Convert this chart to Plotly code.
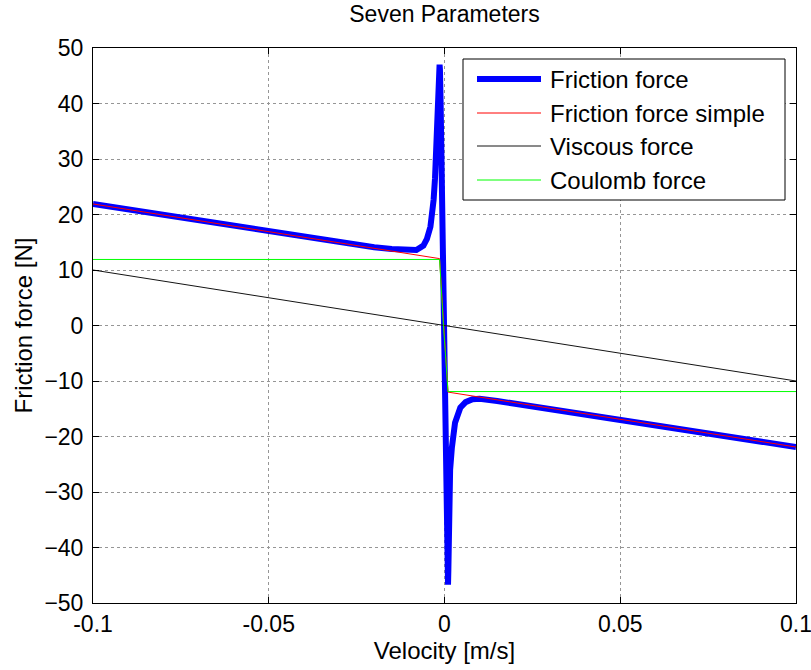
import plotly.graph_objects as go

# ---- data: velocity [m/s] and force [N] ----
v_friction = [-0.100, -0.090, -0.080, -0.070, -0.060, -0.050, -0.040, -0.030,
              -0.025, -0.020, -0.015, -0.010, -0.008, -0.006, -0.005, -0.004,
              -0.0035, -0.0031, -0.0027, -0.0024, -0.0021, -0.0019, -0.0017,
              -0.0015, -0.0014, -0.0013, -0.0011, -0.0009, -0.0005, 0.0, 0.0005,
              0.0008, 0.0009, 0.0010, 0.0011, 0.0013, 0.0016, 0.0021, 0.0030,
              0.0045, 0.0060, 0.0080, 0.010, 0.015, 0.020, 0.025, 0.030, 0.040,
              0.050, 0.060, 0.070, 0.080, 0.090, 0.100]
f_friction = [21.9, 20.9, 19.9, 18.9, 17.9, 17.0, 16.0, 15.0,
              14.6, 14.1, 13.8, 13.6, 13.6, 14.4, 15.6, 17.8,
              19.8, 22.6, 26.5, 30.4, 35.5, 39.4, 43.2,
              46.2, 47.0, 46.2, 40.0, 30.0, 10.0, -7.0, -24.0,
              -37.0, -43.5, -46.7, -44.0, -33.0, -26.0, -22.0, -17.5,
              -14.8, -13.8, -13.3, -13.2, -13.6, -14.1, -14.6, -15.1, -16.0,
              -17.0, -18.0, -19.0, -19.9, -20.9, -21.9]

v_simple = [-0.100, -0.050, -0.010, -0.0014, 0.0010, 0.010, 0.050, 0.100]
f_simple = [21.9, 16.9, 12.9, 12.05, -12.0, -12.9, -16.9, -21.9]

v_viscous = [-0.100, 0.0, 0.100]
f_viscous = [10.0, 0.0, -10.0]

v_coulomb = [-0.100, -0.0014, -0.0003, 0.0010, 0.100]
f_coulomb = [11.9, 11.9, 0.0, -11.9, -11.9]

x_ticks = [-0.1, -0.05, 0, 0.05, 0.1]
x_tick_text = ["-0.1", "-0.05", "0", "0.05", "0.1"]
y_ticks = [-50, -40, -30, -20, -10, 0, 10, 20, 30, 40, 50]

series = [
    ("Friction force", v_friction, f_friction, "rgb(0,0,255)", 6),
    ("Friction force simple", v_simple, f_simple, "rgb(255,0,0)", 1),
    ("Viscous force", v_viscous, f_viscous, "rgb(20,20,20)", 1),
    ("Coulomb force", v_coulomb, f_coulomb, "rgb(0,255,0)", 1),
]

FONT = "Liberation Sans, Arial, sans-serif"
W, H = 811, 670
L, R, T, B = 93, 15, 48, 67

fig = go.Figure()
for name, xs, ys, color, width in series:
    fig.add_trace(go.Scatter(x=xs, y=ys, mode="lines", name=name,
                             line=dict(color=color, width=width),
                             showlegend=False))

# legend box drawn in the upper right corner of the axes
def px_x(px):
    return (px - L) / (W - L - R)

def px_y(py):
    return (H - B - py) / (H - T - B)

shapes = [dict(type="rect", xref="paper", yref="paper",
               x0=px_x(463), x1=px_x(785), y0=px_y(200), y1=px_y(59),
               line=dict(color="black", width=1), fillcolor="white", layer="above")]
annotations = []
row_y = [79, 113, 146, 180]
for (name, _, _, color, width), ry in zip(series, row_y):
    shapes.append(dict(type="line", xref="paper", yref="paper",
                       x0=px_x(477), x1=px_x(541), y0=px_y(ry), y1=px_y(ry),
                       line=dict(color=color, width=width), layer="above"))
    annotations.append(dict(xref="paper", yref="paper", x=px_x(548), y=px_y(ry),
                            text=name, showarrow=False, xanchor="left",
                            yanchor="middle",
                            font=dict(family=FONT, size=24, color="black")))

axis_common = dict(showline=True, linecolor="black", linewidth=1, mirror="ticks",
                   ticks="inside", ticklen=6, tickcolor="black",
                   showgrid=True, gridcolor="rgb(150,150,150)", griddash="dot",
                   gridwidth=1, zeroline=False, ticklabeloverflow="allow",
                   automargin=False,
                   tickfont=dict(family=FONT, size=23, color="black"))

fig.update_layout(
    width=W, height=H,
    margin=dict(l=L, r=R, t=T, b=B, autoexpand=False),
    paper_bgcolor="white", plot_bgcolor="white",
    title=dict(text="Seven Parameters", x=0.5, xref="paper", xanchor="center",
               y=(H - 14) / H, yanchor="middle",
               font=dict(family=FONT, size=23, color="black")),
    xaxis=dict(range=[-0.1, 0.1], tickvals=x_ticks, ticktext=x_tick_text,
               title=dict(text="Velocity [m/s]", standoff=6,
                          font=dict(family=FONT, size=24, color="black")),
               **axis_common),
    yaxis=dict(range=[-50, 50], tickvals=y_ticks,
               title=dict(text="Friction force [N]", standoff=4,
                          font=dict(family=FONT, size=24, color="black")),
               ticklabelstandoff=4,
               **axis_common),
    shapes=shapes,
    annotations=annotations,
)

fig.write_html("out.html")
